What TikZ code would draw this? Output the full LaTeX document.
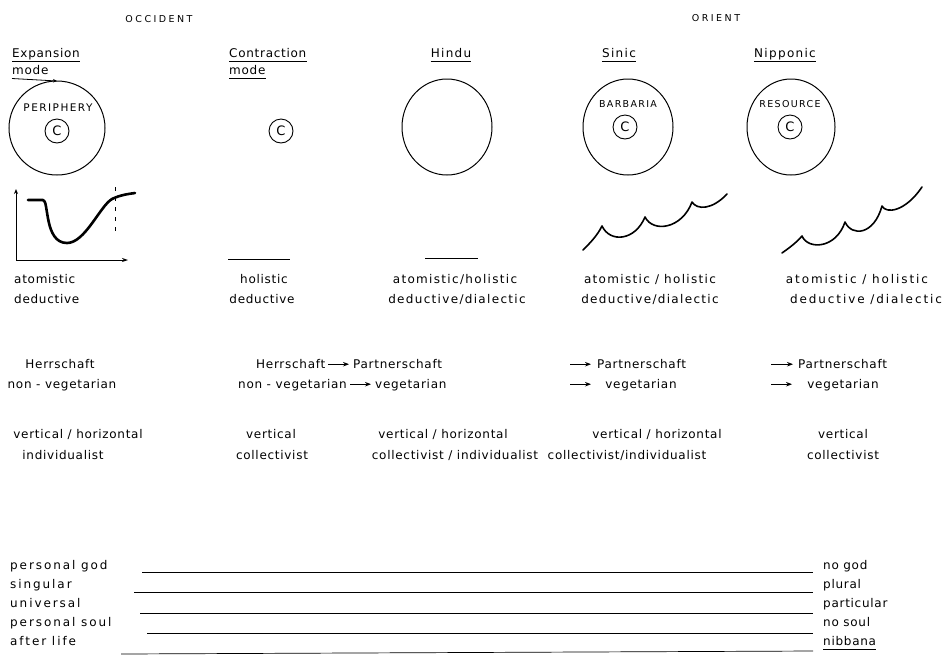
\documentclass[tikz,border=0pt]{standalone}
\usepackage{fontspec}
\setmainfont{DejaVu Sans}
\newfontfamily\lab[LetterSpace=6]{DejaVu Sans}
\newfontfamily\labmid[LetterSpace=11]{DejaVu Sans}
\newfontfamily\labwide[LetterSpace=16]{DejaVu Sans}
\newfontfamily\capsf[LetterSpace=26]{DejaVu Sans}
\newfontfamily\smcap[LetterSpace=14]{DejaVu Sans}
\usetikzlibrary{arrows.meta}
\begin{document}
\begin{tikzpicture}[x=1pt,y=-1pt,
  txt/.style={inner sep=0pt, anchor=base, font=\lab\fontsize{12}{14}\selectfont},
  txtw/.style={txt, anchor=base west},
  txtm/.style={txt, font=\labmid\fontsize{12}{14}\selectfont},
  txtc/.style={txt, font=\labwide\fontsize{12}{14}\selectfont},
  leftlab/.style={txtw, font=\labwide\fontsize{12}{14}\selectfont},
  hdr/.style={inner sep=0pt, anchor=base west, font=\lab\fontsize{12}{14}\selectfont},
  hdrc/.style={inner sep=0pt, anchor=base, font=\labmid\fontsize{12}{14}\selectfont},
  region/.style={inner sep=0pt, anchor=base, font=\capsf\fontsize{9.5}{11}\selectfont},
  inlab/.style={inner sep=0pt, anchor=base, font=\smcap\fontsize{9.5}{11}\selectfont},
  cnode/.style={circle, draw, line width=0.9pt, minimum size=24pt, inner sep=0pt, font=\lab\fontsize{13}{15}\selectfont},
  ring/.style={draw, line width=1pt},
  uline/.style={line width=0.8pt},
  arr/.style={line width=0.8pt, -{Stealth[length=6pt,width=4.5pt]}},
  wave/.style={line width=1.6pt, line cap=round, line join=round},
  rule/.style={line width=0.7pt}
]
\useasboundingbox (0,0) rectangle (952,657);

% region titles
\node[region] (occ) at (159,22) {OCCIDENT};
\node[region] (ori) at (716,21) {ORIENT};

% column headers
\node[hdr] (exp1) at (12,57) {Expansion};
\node[hdr] (exp2) at (12,74) {mode};
\node[hdr] (con1) at (229,57) {Contraction};
\node[hdr] (con2) at (229,74) {mode};
\node[hdrc] (hin) at (451,57) {Hindu};
\node[hdrc] (sin) at (619,57) {Sinic};
\node[hdrc] (nip) at (785,57) {Nipponic};
\draw[uline] ([yshift=-4.5pt]exp1.base west) -- ([yshift=-4.5pt]exp1.base east);
\coordinate (exptop) at (57,81);
\draw[uline,-{Stealth[length=4pt,width=3.5pt]}] ([yshift=-4.5pt]exp2.base west) -- (exptop);
\draw[uline] ([yshift=-4.5pt]con1.base west) -- ([yshift=-4.5pt]con1.base east);
\draw[uline] ([yshift=-4.5pt]con2.base west) -- ([yshift=-4.5pt]con2.base east);
\draw[uline] ([yshift=-4.5pt]hin.base west) -- ([yshift=-4.5pt]hin.base east);
\draw[uline] ([yshift=-4.5pt]sin.base west) -- ([yshift=-4.5pt]sin.base east);
\draw[uline] ([yshift=-4.5pt]nip.base west) -- ([yshift=-4.5pt]nip.base east);

% circles
\draw[ring] (57,128) circle[x radius=48pt, y radius=47pt];
\node[inlab, font=\smcap\fontsize{10.5}{12}\selectfont] (per) at (58,111) {PERIPHERY};
\node[cnode] (c1) at (57,131) {C};
\node[cnode] (c2) at (281,131) {C};
\draw[ring] (447,127) circle[x radius=45pt, y radius=48pt];
\draw[ring] (628,127) circle[x radius=45pt, y radius=48pt];
\node[inlab] (bar) at (628,107) {BARBARIA};
\node[cnode] (c4) at (625,127) {C};
\draw[ring] (791,127) circle[x radius=44pt, y radius=48pt];
\node[inlab] (res) at (790,107) {RESOURCE};
\node[cnode] (c5) at (790,127) {C};

% graph (expansion)
\coordinate (org) at (16,260);
\coordinate (ytop) at (16,189);
\coordinate (xend) at (128,260);
\draw[line width=0.9pt,-{Stealth[length=5pt,width=4pt]}] (org) -- (ytop);
\draw[line width=0.9pt,-{Stealth[length=6pt,width=4pt]}] (org) -- (xend);
\draw[line width=2.6pt, line cap=round, line join=round]
  (28,200) -- (43,200) .. controls (49,200) and (44,243) .. (67,243)
  .. controls (85,243) and (100,206) .. (112,199)
  .. controls (120,195) and (128,194) .. (135,193);
\draw[line width=0.8pt, dash pattern=on 4pt off 6pt] (115,187) -- (115,233);

% flat lines
\draw[line width=0.9pt] (228,259) -- (290,259);
\draw[line width=0.9pt] (425,258) -- (478,258);

% waves
\draw[wave] (583,250) .. controls (590,243) and (597,236) .. (602,226)
  .. controls (610,243) and (635,241) .. (645,217)
  .. controls (653,233) and (682,229) .. (692,202)
  .. controls (697,210) and (712,210) .. (727,194);
\draw[wave] (782,253) .. controls (789,248) and (796,243) .. (802,236)
  .. controls (808,250) and (836,249) .. (845,222)
  .. controls (852,237) and (874,235) .. (882,206)
  .. controls (886,214) and (905,212) .. (922,187);

% row 1-2
\node[txtw] (a1) at (14,283) {atomistic};
\node[txtw] (d1) at (14,303) {deductive};
\node[txt] (a2) at (264,283) {holistic};
\node[txt] (d2) at (262,303) {deductive};
\node[txtm] (a3) at (455,283) {atomistic/holistic};
\node[txtm] (d3) at (457,303) {deductive/dialectic};
\node[txtm] (a4) at (650,283) {atomistic / holistic};
\node[txtm] (d4) at (650,303) {deductive/dialectic};
\node[txtc] (a5) at (857,283) {atomistic / holistic};
\node[txtc] (d5) at (866,303) {deductive /dialectic};

% row 3-4
\node[txt] (h1) at (60,368) {Herrschaft};
\node[txt] (n1) at (62,388) {non - vegetarian};
\node[txtw] (h2) at (256,368) {Herrschaft};
\node[txtw] (p2) at (353,368) {Partnerschaft};
\node[txtw] (n2) at (238,388) {non - vegetarian};
\node[txtw] (v2) at (375,388) {vegetarian};
\draw[arr] ([xshift=3pt,yshift=3.8pt]h2.base east) -- ([xshift=-4pt,yshift=3.8pt]p2.base west);
\draw[arr] ([xshift=3pt,yshift=3.8pt]n2.base east) -- ([xshift=-4pt,yshift=3.8pt]v2.base west);
\node[txtw] (p4) at (597,368) {Partnerschaft};
\node[txt] (v4) at (641,388) {vegetarian};
\coordinate (s4a) at (570,364.2);
\coordinate (s4b) at (570,384.2); \coordinate (e4b) at (591,384.2);
\draw[arr] (s4a) -- ([xshift=-6pt,yshift=3.8pt]p4.base west);
\draw[arr] (s4b) -- (e4b);
\node[txtw] (p5) at (798,368) {Partnerschaft};
\node[txt] (v5) at (843,388) {vegetarian};
\coordinate (s5a) at (771,364.2);
\coordinate (s5b) at (771,384.2); \coordinate (e5b) at (792,384.2);
\draw[arr] (s5a) -- ([xshift=-5pt,yshift=3.8pt]p5.base west);
\draw[arr] (s5b) -- (e5b);

% row 5-6
\node[txt] (vh1) at (78,438) {vertical / horizontal};
\node[txt] (i1) at (63,459) {individualist};
\node[txt] (vh2) at (271,438) {vertical};
\node[txt] (i2) at (272,459) {collectivist};
\node[txt] (vh3) at (443,438) {vertical / horizontal};
\node[txt] (i3) at (455,459) {collectivist / individualist};
\node[txt] (vh4) at (657,438) {vertical / horizontal};
\node[txt] (i4) at (627,459) {collectivist/individualist};
\node[txt] (vh5) at (843,438) {vertical};
\node[txt] (i5) at (843,459) {collectivist};

% bottom scales
\node[leftlab] (l1) at (10,569) {personal god};
\node[leftlab] (l2) at (10,588) {singular};
\node[leftlab] (l3) at (10,607) {universal};
\node[leftlab] (l4) at (10,626) {personal soul};
\node[leftlab] (l5) at (10,645) {after life};
\node[txtw] (r1) at (823,569) {no god};
\node[txtw] (r2) at (823,588) {plural};
\node[txtw] (r3) at (823,607) {particular};
\node[txtw] (r4) at (823,626) {no soul};
\node[txtw] (r5) at (823,645) {nibbana};
\draw[uline] ([yshift=-4pt]r5.base west) -- ([yshift=-4pt]r5.base east);
\coordinate (s1) at (142,572); \coordinate (e1) at (813,572);
\coordinate (s2) at (134,592); \coordinate (e2) at (813,592);
\coordinate (s3) at (140,613); \coordinate (e3) at (813,613);
\coordinate (s4) at (147,633); \coordinate (e4) at (813,633);
\coordinate (s5) at (121,654); \coordinate (e5) at (813,651);
\draw[rule] (s1) -- (e1);
\draw[rule] (s2) -- (e2);
\draw[rule] (s3) -- (e3);
\draw[rule] (s4) -- (e4);
\draw[rule] (s5) -- (e5);
\end{tikzpicture}
\end{document}
